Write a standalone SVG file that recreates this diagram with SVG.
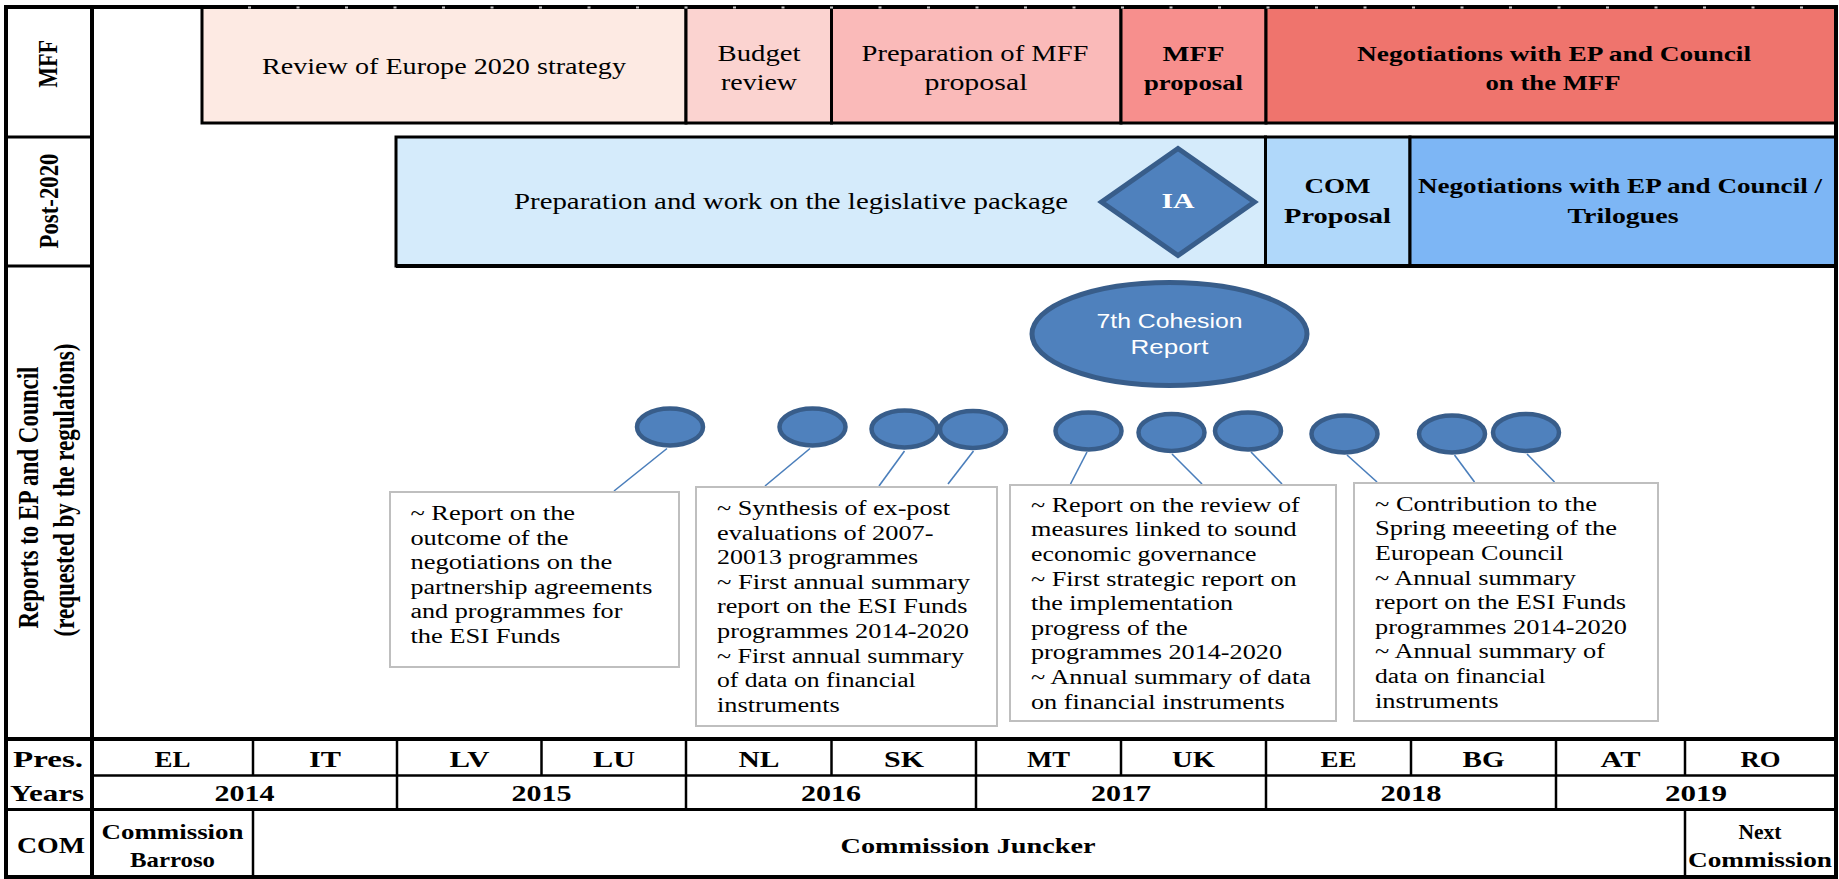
<svg xmlns="http://www.w3.org/2000/svg" width="1839" height="879" viewBox="0 0 1839 879">
<style>
text{font-family:"Liberation Serif","Times New Roman",serif;fill:#000}
.b{font-weight:bold}
.m{text-anchor:middle}
.r23{font-size:23px}
.b22{font-size:22px;font-weight:bold}
.b21{font-size:21px;font-weight:bold}
.b24{font-size:24px;font-weight:bold}
.bx{font-size:20px}
.grid{stroke:#000;fill:none}
.bar{stroke:#000;stroke-width:3}
.note{fill:#fff;stroke:#BFBFBF;stroke-width:2}
.dot{fill:#4F81BD;stroke:#385D8A;stroke-width:4.5}
.conn{stroke:#4A7EBB;stroke-width:1.6;fill:none}
.wt{fill:#fff}
</style>
<rect x="0" y="0" width="1839" height="879" fill="#fff"/>

<g id="mff-bars">
<rect class="bar" x="202" y="7" width="484" height="116" fill="#FDEAE3"/>
<rect class="bar" x="686" y="7" width="145.5" height="116" fill="#FBD3D0"/>
<rect class="bar" x="831.5" y="7" width="289.5" height="116" fill="#FABAB9"/>
<rect class="bar" x="1121" y="7" width="145" height="116" fill="#F78F8D"/>
<rect class="bar" x="1266" y="7" width="570" height="116" fill="#EF746D"/>
</g>
<g id="mff-texts">
<text class="r23 m" x="444" y="74" textLength="364" lengthAdjust="spacingAndGlyphs">Review of Europe 2020 strategy</text>
<text class="r23 m" x="759" y="61" textLength="83" lengthAdjust="spacingAndGlyphs">Budget</text>
<text class="r23 m" x="759" y="90" textLength="76" lengthAdjust="spacingAndGlyphs">review</text>
<text class="r23 m" x="975" y="61" textLength="227" lengthAdjust="spacingAndGlyphs">Preparation of MFF</text>
<text class="r23 m" x="976" y="90" textLength="103" lengthAdjust="spacingAndGlyphs">proposal</text>
<text class="b22 m" x="1193.5" y="61" textLength="62" lengthAdjust="spacingAndGlyphs">MFF</text>
<text class="b22 m" x="1193.5" y="90" textLength="99" lengthAdjust="spacingAndGlyphs">proposal</text>
<text class="b22 m" x="1554" y="61" textLength="394" lengthAdjust="spacingAndGlyphs">Negotiations with EP and Council</text>
<text class="b22 m" x="1553" y="90" textLength="135" lengthAdjust="spacingAndGlyphs">on the MFF</text>
</g>

<g id="post2020-bars">
<rect class="bar" x="396" y="137" width="869.5" height="129" fill="#D5EBFB"/>
<rect class="bar" x="1265.5" y="137" width="144.5" height="129" fill="#B0D8FA"/>
<rect class="bar" x="1410" y="137" width="426" height="129" fill="#7DB6F5"/>
</g>
<g id="post2020-texts">
<text class="r23 m" x="791" y="209" textLength="554" lengthAdjust="spacingAndGlyphs">Preparation and work on the legislative package</text>
<text class="b21 m" x="1337.5" y="193" textLength="66" lengthAdjust="spacingAndGlyphs">COM</text>
<text class="b21 m" x="1337.5" y="223" textLength="107" lengthAdjust="spacingAndGlyphs">Proposal</text>
<text class="b21 m" x="1620" y="193" textLength="404" lengthAdjust="spacingAndGlyphs">Negotiations with EP and Council /</text>
<text class="b21 m" x="1623" y="223" textLength="111" lengthAdjust="spacingAndGlyphs">Trilogues</text>
</g>
<g id="ia">
<polygon class="dot" style="stroke-width:5" points="1178,148.5 1254.5,202 1178,255.5 1101.5,202"/>
<text class="b22 m wt" x="1178" y="208" textLength="33" lengthAdjust="spacingAndGlyphs">IA</text>
</g>

<g id="frame">
<rect class="grid" x="6" y="7" width="1830" height="870" stroke-width="4"/>
<line class="grid" x1="92" y1="7" x2="92" y2="877" stroke-width="4"/>
<line class="grid" x1="6" y1="137" x2="92" y2="137" stroke-width="3"/>
<line class="grid" x1="6" y1="266" x2="92" y2="266" stroke-width="3"/>
<line class="grid" x1="396" y1="266" x2="1836" y2="266" stroke-width="4"/>
<line class="grid" x1="6" y1="739" x2="1836" y2="739" stroke-width="4"/>
<line class="grid" x1="92" y1="775.5" x2="1836" y2="775.5" stroke-width="2.5"/>
<line class="grid" x1="6" y1="809.5" x2="1836" y2="809.5" stroke-width="3"/>
<line x1="248" y1="7.5" x2="1834" y2="7.5" stroke="#C8C8C8" stroke-width="2" stroke-dasharray="3 45.5"/>
<g stroke="#000" stroke-width="2.5">
<line x1="253" y1="739" x2="253" y2="775.5"/>
<line x1="541.5" y1="739" x2="541.5" y2="775.5"/>
<line x1="831.5" y1="739" x2="831.5" y2="775.5"/>
<line x1="1121" y1="739" x2="1121" y2="775.5"/>
<line x1="1411" y1="739" x2="1411" y2="775.5"/>
<line x1="1685" y1="739" x2="1685" y2="775.5"/>
<line x1="397" y1="739" x2="397" y2="809.5"/>
<line x1="686" y1="739" x2="686" y2="809.5"/>
<line x1="976" y1="739" x2="976" y2="809.5"/>
<line x1="1266" y1="739" x2="1266" y2="809.5"/>
<line x1="1556" y1="739" x2="1556" y2="809.5"/>
<line x1="253" y1="809.5" x2="253" y2="877"/>
<line x1="1685" y1="809.5" x2="1685" y2="877"/>
</g>
</g>

<g id="row-labels">
<text class="b22 m" transform="translate(57,64) rotate(-90) scale(1,1.25)" x="0" y="0">MFF</text>
<text class="b22 m" transform="translate(58,201) rotate(-90) scale(1,1.25)" x="0" y="0" textLength="95" lengthAdjust="spacingAndGlyphs">Post-2020</text>
<text class="b m" style="font-size:23px" transform="translate(38,497.5) rotate(-90) scale(1,1.25)" x="0" y="0" textLength="262" lengthAdjust="spacingAndGlyphs">Reports to EP and Council</text>
<text class="b m" style="font-size:23px" transform="translate(74,490) rotate(-90) scale(1,1.25)" x="0" y="0" textLength="293" lengthAdjust="spacingAndGlyphs">(requested by the regulations)</text>
</g>

<g id="connectors">
<line class="conn" x1="667" y1="448.5" x2="614" y2="491"/>
<line class="conn" x1="810" y1="448.5" x2="765" y2="486"/>
<line class="conn" x1="904.5" y1="451" x2="879" y2="486"/>
<line class="conn" x1="973.5" y1="451" x2="948" y2="484"/>
<line class="conn" x1="1087" y1="452" x2="1070.5" y2="484"/>
<line class="conn" x1="1172" y1="454" x2="1202" y2="484"/>
<line class="conn" x1="1251" y1="452" x2="1282" y2="484"/>
<line class="conn" x1="1347" y1="455" x2="1377" y2="482"/>
<line class="conn" x1="1454.5" y1="455" x2="1474.5" y2="482"/>
<line class="conn" x1="1527" y1="454" x2="1554.5" y2="482"/>
</g>

<g id="report-dots">
<ellipse class="dot" cx="670" cy="427" rx="33" ry="18.5"/>
<ellipse class="dot" cx="812.5" cy="427" rx="33" ry="18.5"/>
<ellipse class="dot" cx="904.5" cy="429" rx="33" ry="18.5"/>
<ellipse class="dot" cx="973" cy="429.5" rx="33" ry="18.5"/>
<ellipse class="dot" cx="1088.5" cy="431" rx="33" ry="18.5"/>
<ellipse class="dot" cx="1171.5" cy="432.5" rx="33" ry="18.5"/>
<ellipse class="dot" cx="1248" cy="431" rx="33" ry="18.5"/>
<ellipse class="dot" cx="1344.5" cy="434" rx="33" ry="18.5"/>
<ellipse class="dot" cx="1452" cy="434" rx="33" ry="18.5"/>
<ellipse class="dot" cx="1526" cy="432.5" rx="33" ry="18.5"/>
</g>

<g id="cohesion-report">
<ellipse class="dot" style="stroke-width:5" cx="1169.5" cy="334" rx="137.5" ry="51.5"/>
<text class="m wt" style="font-family:'Liberation Sans','Open Sans',sans-serif;font-size:20px" x="1169.5" y="328" textLength="146" lengthAdjust="spacingAndGlyphs">7th Cohesion</text>
<text class="m wt" style="font-family:'Liberation Sans','Open Sans',sans-serif;font-size:20px" x="1169.5" y="354" textLength="78" lengthAdjust="spacingAndGlyphs">Report</text>
</g>

<g id="note-1">
<rect class="note" x="390" y="492" width="289" height="175"/>
<text class="bx" x="410.4" y="520" textLength="164.7" lengthAdjust="spacingAndGlyphs">~ Report on the</text>
<text class="bx" x="410.4" y="544.6" textLength="158" lengthAdjust="spacingAndGlyphs">outcome of the</text>
<text class="bx" x="410.4" y="569.2" textLength="201.8" lengthAdjust="spacingAndGlyphs">negotiations on the</text>
<text class="bx" x="410.4" y="593.8" textLength="242" lengthAdjust="spacingAndGlyphs">partnership agreements</text>
<text class="bx" x="410.4" y="618.4" textLength="212" lengthAdjust="spacingAndGlyphs">and programmes for</text>
<text class="bx" x="410.4" y="643" textLength="150" lengthAdjust="spacingAndGlyphs">the ESI Funds</text>
</g>

<g id="note-2">
<rect class="note" x="696" y="487" width="301" height="239"/>
<text class="bx" x="717" y="515" textLength="233" lengthAdjust="spacingAndGlyphs">~ Synthesis of ex-post</text>
<text class="bx" x="717" y="539.6" textLength="216.5" lengthAdjust="spacingAndGlyphs">evaluations of 2007-</text>
<text class="bx" x="717" y="564.2" textLength="201" lengthAdjust="spacingAndGlyphs">20013 programmes</text>
<text class="bx" x="717" y="588.8" textLength="253" lengthAdjust="spacingAndGlyphs">~ First annual summary</text>
<text class="bx" x="717" y="613.4" textLength="250.4" lengthAdjust="spacingAndGlyphs">report on the ESI Funds</text>
<text class="bx" x="717" y="638" textLength="252" lengthAdjust="spacingAndGlyphs">programmes 2014-2020</text>
<text class="bx" x="717" y="662.6" textLength="247" lengthAdjust="spacingAndGlyphs">~ First annual summary</text>
<text class="bx" x="717" y="687.2" textLength="198.7" lengthAdjust="spacingAndGlyphs">of data on financial</text>
<text class="bx" x="717" y="711.8" textLength="122.8" lengthAdjust="spacingAndGlyphs">instruments</text>
</g>

<g id="note-3">
<rect class="note" x="1010" y="485" width="326" height="236"/>
<text class="bx" x="1031" y="511.7" textLength="268.7" lengthAdjust="spacingAndGlyphs">~ Report on the review of</text>
<text class="bx" x="1031" y="536.3" textLength="265.6" lengthAdjust="spacingAndGlyphs">measures linked to sound</text>
<text class="bx" x="1031" y="560.9" textLength="225.4" lengthAdjust="spacingAndGlyphs">economic governance</text>
<text class="bx" x="1031" y="585.5" textLength="265.6" lengthAdjust="spacingAndGlyphs">~ First strategic report on</text>
<text class="bx" x="1031" y="610.1" textLength="202" lengthAdjust="spacingAndGlyphs">the implementation</text>
<text class="bx" x="1031" y="634.7" textLength="156.7" lengthAdjust="spacingAndGlyphs">progress of the</text>
<text class="bx" x="1031" y="659.3" textLength="251" lengthAdjust="spacingAndGlyphs">programmes 2014-2020</text>
<text class="bx" x="1031" y="683.9" textLength="280" lengthAdjust="spacingAndGlyphs">~ Annual summary of data</text>
<text class="bx" x="1031" y="708.5" textLength="253.6" lengthAdjust="spacingAndGlyphs">on financial instruments</text>
</g>

<g id="note-4">
<rect class="note" x="1354" y="483" width="304" height="238"/>
<text class="bx" x="1375" y="510.7" textLength="221.9" lengthAdjust="spacingAndGlyphs">~ Contribution to the</text>
<text class="bx" x="1375" y="535.3" textLength="242" lengthAdjust="spacingAndGlyphs">Spring meeeting of the</text>
<text class="bx" x="1375" y="559.9" textLength="188.4" lengthAdjust="spacingAndGlyphs">European Council</text>
<text class="bx" x="1375" y="584.5" textLength="201" lengthAdjust="spacingAndGlyphs">~ Annual summary</text>
<text class="bx" x="1375" y="609.1" textLength="251" lengthAdjust="spacingAndGlyphs">report on the ESI Funds</text>
<text class="bx" x="1375" y="633.7" textLength="252" lengthAdjust="spacingAndGlyphs">programmes 2014-2020</text>
<text class="bx" x="1375" y="658.3" textLength="230" lengthAdjust="spacingAndGlyphs">~ Annual summary of</text>
<text class="bx" x="1375" y="682.9" textLength="170.5" lengthAdjust="spacingAndGlyphs">data on financial</text>
<text class="bx" x="1375" y="707.5" textLength="123.7" lengthAdjust="spacingAndGlyphs">instruments</text>
</g>

<g id="presidencies">
<text class="b24 m" x="48" y="767" textLength="70" lengthAdjust="spacingAndGlyphs">Pres.</text>
<text class="b24 m" x="172.5" y="767" textLength="36" lengthAdjust="spacingAndGlyphs">EL</text>
<text class="b24 m" x="325" y="767" textLength="32" lengthAdjust="spacingAndGlyphs">IT</text>
<text class="b24 m" x="469.5" y="767" textLength="40" lengthAdjust="spacingAndGlyphs">LV</text>
<text class="b24 m" x="614" y="767" textLength="42" lengthAdjust="spacingAndGlyphs">LU</text>
<text class="b24 m" x="759" y="767" textLength="41" lengthAdjust="spacingAndGlyphs">NL</text>
<text class="b24 m" x="904" y="767" textLength="40" lengthAdjust="spacingAndGlyphs">SK</text>
<text class="b24 m" x="1048.5" y="767" textLength="43" lengthAdjust="spacingAndGlyphs">MT</text>
<text class="b24 m" x="1193.5" y="767" textLength="43" lengthAdjust="spacingAndGlyphs">UK</text>
<text class="b24 m" x="1338.5" y="767" textLength="36" lengthAdjust="spacingAndGlyphs">EE</text>
<text class="b24 m" x="1483.5" y="767" textLength="42" lengthAdjust="spacingAndGlyphs">BG</text>
<text class="b24 m" x="1620.5" y="767" textLength="40" lengthAdjust="spacingAndGlyphs">AT</text>
<text class="b24 m" x="1760.5" y="767" textLength="40" lengthAdjust="spacingAndGlyphs">RO</text>
</g>

<g id="years">
<text class="b24 m" x="47" y="801" textLength="74" lengthAdjust="spacingAndGlyphs">Years</text>
<text class="b24 m" x="244.5" y="801" textLength="60" lengthAdjust="spacingAndGlyphs">2014</text>
<text class="b24 m" x="541.5" y="801" textLength="60" lengthAdjust="spacingAndGlyphs">2015</text>
<text class="b24 m" x="831" y="801" textLength="60" lengthAdjust="spacingAndGlyphs">2016</text>
<text class="b24 m" x="1121" y="801" textLength="60" lengthAdjust="spacingAndGlyphs">2017</text>
<text class="b24 m" x="1411" y="801" textLength="61" lengthAdjust="spacingAndGlyphs">2018</text>
<text class="b24 m" x="1696" y="801" textLength="62" lengthAdjust="spacingAndGlyphs">2019</text>
</g>

<g id="commissions">
<text class="b24 m" x="51" y="853" textLength="68" lengthAdjust="spacingAndGlyphs">COM</text>
<text class="b22 m" x="172.5" y="839" textLength="142" lengthAdjust="spacingAndGlyphs">Commission</text>
<text class="b22 m" x="172.5" y="867" textLength="85" lengthAdjust="spacingAndGlyphs">Barroso</text>
<text class="b22 m" x="968" y="853" textLength="255" lengthAdjust="spacingAndGlyphs">Commission Juncker</text>
<text class="b22 m" x="1760" y="839" textLength="43" lengthAdjust="spacingAndGlyphs">Next</text>
<text class="b22 m" x="1760" y="867" textLength="144" lengthAdjust="spacingAndGlyphs">Commission</text>
</g>
</svg>
